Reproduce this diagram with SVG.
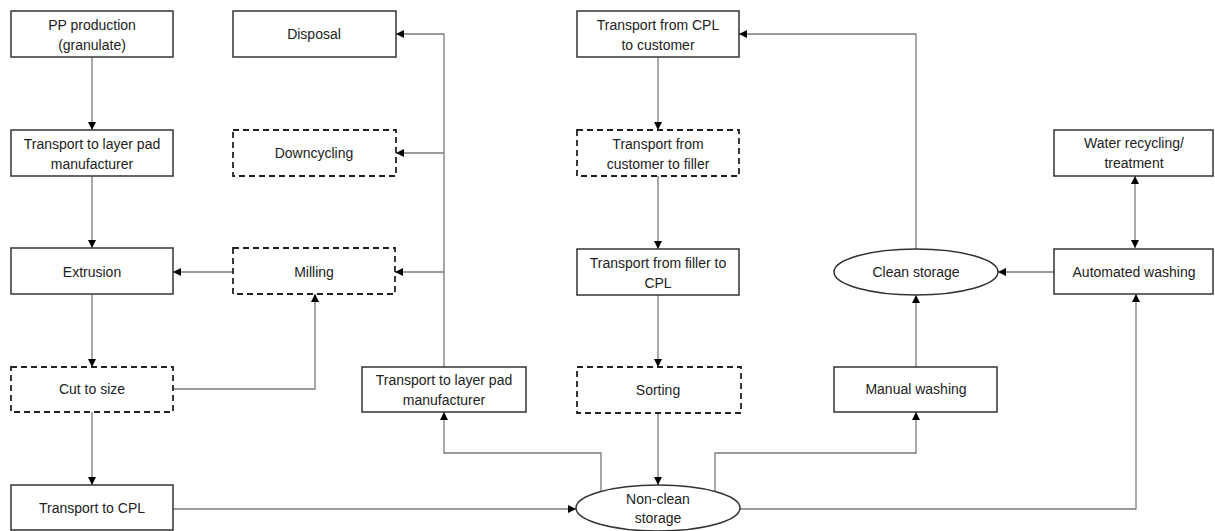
<svg xmlns="http://www.w3.org/2000/svg" width="1215" height="531" viewBox="0 0 1215 531">
<style>
.box{fill:#fff;stroke:#333;stroke-width:1.5}
.dash{fill:#fff;stroke:#222;stroke-width:1.8;stroke-dasharray:6 4}
.ell{fill:#fff;stroke:#333;stroke-width:1.5}
.t{font-family:"Liberation Sans",Arial,sans-serif;font-size:14px;fill:#222;text-anchor:middle}
.c{fill:none;stroke:#7a7a7a;stroke-width:1.3;marker-end:url(#ah)}
</style>
<defs>
<marker id="ah" markerUnits="userSpaceOnUse" markerWidth="9" markerHeight="9" refX="8" refY="4.5" orient="auto-start-reverse" viewBox="0 0 9 9">
<path d="M0,0.5 L8,4.5 L0,8.5 z" fill="#000"/>
</marker>
</defs>
<rect width="1215" height="531" fill="#fff"/>
<g id="connectors">
<path class="c" d="M92 57 V130"/>
<path class="c" d="M92 176 V248"/>
<path class="c" d="M92 294 V367"/>
<path class="c" d="M92 412 V485"/>
<path class="c" d="M233 272 H173"/>
<path class="c" d="M174 389 H315 V294"/>
<path class="c" d="M444 367 V34 H396"/>
<path class="c" d="M444 153 H396"/>
<path class="c" d="M444 272 H395"/>
<path class="c" d="M173 509 H576"/>
<path class="c" d="M601 491 V453 H444 V412"/>
<path class="c" d="M715 491 V453 H916 V412"/>
<path class="c" d="M739 509 H1136 V294"/>
<path class="c" d="M916 367 V295"/>
<path class="c" d="M916 249 V34 H739"/>
<path class="c" d="M1054 272 H998"/>
<path class="c" d="M1135 176 V248" style="marker-start:url(#ah)"/>
<path class="c" d="M658 57 V130"/>
<path class="c" d="M658 176 V249"/>
<path class="c" d="M658 295 V367"/>
<path class="c" d="M658 413 V485"/>
</g>
<g id="pp-production"><rect class="box" x="11" y="11" width="162" height="46"/><text class="t" x="92" y="30">PP production</text><text class="t" x="92" y="50">(granulate)</text></g>
<g id="transport-layer-pad-1"><rect class="box" x="11" y="130" width="162" height="46"/><text class="t" x="92" y="149">Transport to layer pad</text><text class="t" x="92" y="169">manufacturer</text></g>
<g id="extrusion"><rect class="box" x="11" y="248" width="162" height="46"/><text class="t" x="92" y="277">Extrusion</text></g>
<g id="cut-to-size"><rect class="dash" x="11" y="367" width="162" height="45"/><text class="t" x="92" y="394">Cut to size</text></g>
<g id="transport-to-cpl"><rect class="box" x="11" y="485" width="162" height="45"/><text class="t" x="92" y="513">Transport to CPL</text></g>
<g id="disposal"><rect class="box" x="233" y="11" width="163" height="46"/><text class="t" x="314" y="39">Disposal</text></g>
<g id="downcycling"><rect class="dash" x="233" y="130" width="163" height="46"/><text class="t" x="314" y="158">Downcycling</text></g>
<g id="milling"><rect class="dash" x="233" y="248" width="162" height="46"/><text class="t" x="314" y="277">Milling</text></g>
<g id="transport-layer-pad-2"><rect class="box" x="362" y="367" width="164" height="45"/><text class="t" x="444" y="385">Transport to layer pad</text><text class="t" x="444" y="405">manufacturer</text></g>
<g id="transport-cpl-customer"><rect class="box" x="577" y="11" width="162" height="46"/><text class="t" x="658" y="30">Transport from CPL</text><text class="t" x="658" y="50">to customer</text></g>
<g id="transport-customer-filler"><rect class="dash" x="577" y="130" width="162" height="46"/><text class="t" x="658" y="149">Transport from</text><text class="t" x="658" y="169">customer to filler</text></g>
<g id="transport-filler-cpl"><rect class="box" x="577" y="249" width="162" height="46"/><text class="t" x="658" y="268">Transport from filler to</text><text class="t" x="658" y="288">CPL</text></g>
<g id="sorting"><rect class="dash" x="577" y="367" width="164" height="46"/><text class="t" x="658" y="395">Sorting</text></g>
<g id="non-clean-storage"><ellipse class="ell" cx="658" cy="508" rx="82" ry="23"/><text class="t" x="658" y="504">Non-clean</text><text class="t" x="658" y="523">storage</text></g>
<g id="manual-washing"><rect class="box" x="834" y="367" width="163" height="45"/><text class="t" x="916" y="394">Manual washing</text></g>
<g id="clean-storage"><ellipse class="ell" cx="916" cy="272" rx="82" ry="23"/><text class="t" x="916" y="277">Clean storage</text></g>
<g id="automated-washing"><rect class="box" x="1054" y="249" width="159" height="45"/><text class="t" x="1134" y="277">Automated washing</text></g>
<g id="water-recycling"><rect class="box" x="1054" y="130" width="159" height="46"/><text class="t" x="1134" y="148">Water recycling/</text><text class="t" x="1134" y="168">treatment</text></g>
</svg>
